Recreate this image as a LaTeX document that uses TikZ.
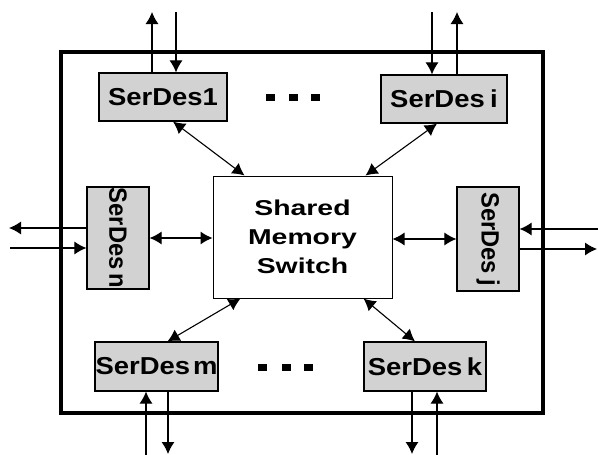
\documentclass[tikz,border=0pt]{standalone}
\usepackage{fontspec}
\setmainfont{Liberation Sans}
\newfontfamily\portfont[FakeStretch=1.12]{Liberation Sans}
\newfontfamily\sideportfont[FakeStretch=0.95]{Liberation Sans}
\newfontfamily\switchfont[FakeStretch=1.32]{Liberation Sans}
\usetikzlibrary{arrows.meta,calc}
\begin{document}
\begin{tikzpicture}[x=1pt,y=-1pt,
  tip/.tip={Latex[length=12pt,width=13pt]},
  serdes/.style={draw=black,line width=1.2pt,fill=gray!35,inner sep=0pt,
    font=\portfont\fontsize{24.5}{26}\selectfont\bfseries},
  sideserdes/.style={serdes,rotate=-90,
    font=\sideportfont\fontsize{25}{27}\selectfont\bfseries},
  switchbox/.style={draw=black,line width=1pt,fill=white,inner sep=0pt,align=center,
    minimum width=179pt,minimum height=122pt,
    font=\switchfont\fontsize{21.5}{29}\selectfont\bfseries},
  link/.style={line width=1.1pt,-tip},
  duplex/.style={line width=1.1pt,tip-tip},
  frame/.style={line width=3.4pt}]
\useasboundingbox (0,0) rectangle (598,455);

% chip outline
\draw[frame] (61,52) rectangle (543,413);

% central switch
\node[switchbox] (sw) at (302.5,237) {Shared\\Memory\\Switch};

% SerDes ports
\node[serdes,minimum width=128pt,minimum height=48pt] (s1) at (163,97) {SerDes1};
\node[serdes,minimum width=126pt,minimum height=48pt] (si) at (444,99) {SerDes\hspace{0.22em}i};
\node[serdes,minimum width=123pt,minimum height=49pt] (sm) at (156.5,366.5) {SerDes\hspace{0.12em}m};
\node[serdes,minimum width=122pt,minimum height=49pt] (sk) at (425,366.5) {SerDes\hspace{0.18em}k};
\node[sideserdes,minimum width=102pt,minimum height=62pt] (sn) at (118,238) {SerDes\hspace{0.15em}n};
\node[sideserdes,minimum width=104pt,minimum height=62pt] (sj) at (488,239) {SerDes\hspace{0.2em}j};

% ellipsis marks between ports
\foreach \cx in {270,293,315}
  \fill (\cx-4.5,93.5) rectangle ++(9,7);
\foreach \cx in {262,286,308}
  \fill (\cx-4.5,363.5) rectangle ++(9,7);

% external line ends
\coordinate (s1out) at (152,12);
\coordinate (s1in)  at (176,12);
\coordinate (siin)  at (432,12);
\coordinate (siout) at (457,12);
\coordinate (smin)  at (146,455);
\coordinate (smout) at (168,454);
\coordinate (skout) at (412,454);
\coordinate (skin)  at (437,455);
\coordinate (snout) at (9,228);
\coordinate (snin)  at (10,248);
\coordinate (sjin)  at (598,229);
\coordinate (sjout) at (597,249);

% serial links leaving and entering the chip
\draw[link] (s1.north -| s1out) -- (s1out);
\draw[link] (s1in) -- (s1.north -| s1in);
\draw[link] (siin) -- (si.north -| siin);
\draw[link] (si.north -| siout) -- (siout);
\draw[link] (smin) -- (sm.south -| smin);
\draw[link] (sm.south -| smout) -- (smout);
\draw[link] (sk.south -| skout) -- (skout);
\draw[link] (skin) -- (sk.south -| skin);
\draw[link] (sn.south |- snout) -- (snout);
\draw[link] (snin) -- (sn.south |- snin);
\draw[link] (sjin) -- (sj.north |- sjin);
\draw[link] (sj.north |- sjout) -- (sjout);

% internal links to the shared memory switch
\draw[duplex] ([xshift=10pt]s1.south) -- ([xshift=32pt]sw.north west);
\draw[duplex] ([xshift=-7pt]si.south) -- ([xshift=-27pt]sw.north east);
\draw[duplex] ([xshift=11pt]sm.north) -- ([xshift=28pt]sw.south west);
\draw[duplex] ([xshift=-10pt]sk.north) -- ([xshift=-29pt]sw.south east);
\draw[duplex] (sn.north) -- (sn.north -| sw.west);
\draw[duplex] (sw.east |- sj.south) -- (sj.south);
\end{tikzpicture}
\end{document}
